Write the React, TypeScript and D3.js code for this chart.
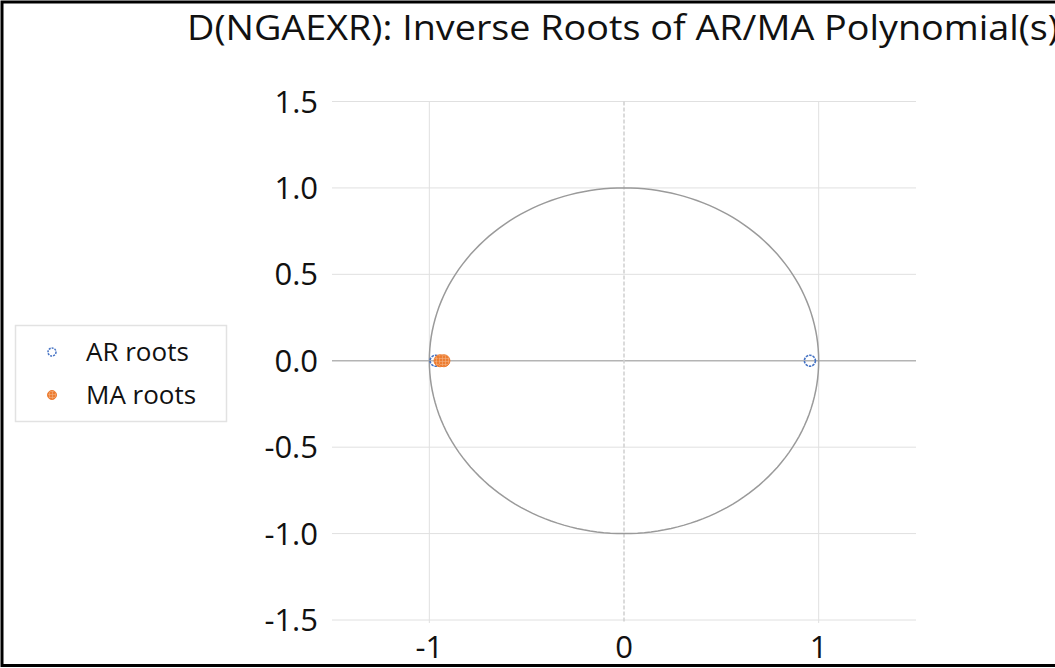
import React from "react";
import * as d3 from "d3";

const W = 1055;
const H = 668;

const titleText = "D(NGAEXR): Inverse Roots of AR/MA Polynomial(s)";
const xTicks = [-1, 0, 1];
const yTicks = [1.5, 1.0, 0.5, 0.0, -0.5, -1.0, -1.5];
const arRootsRe = [-0.968, 0.955];
const arRootsIm = [0, 0];
const maRootsRe = [-0.945, -0.925];
const maRootsIm = [0, 0];
const seriesNames = ["AR roots", "MA roots"];

const FONT = "'Open Sans', 'Noto Sans', sans-serif";
const BLUE = "#4472C4";
const ORANGE = "#ED7D31";

const fmtY = (t: number) => d3.format(".1f")(t).replace("\u2212", "-");
const fmtX = (t: number) => d3.format("d")(t).replace("\u2212", "-");

export default function App() {
  const x = d3.scaleLinear().domain([-1.5, 1.5]).range([332, 916]);
  const y = d3.scaleLinear().domain([-1.5, 1.5]).range([620, 101.5]);

  const angles = d3.range(0, 361, 2).map((d) => (d * Math.PI) / 180);
  const circlePath = d3
    .line<number>()
    .x((a) => x(Math.cos(a)))
    .y((a) => y(Math.sin(a)))(angles) as string;

  const ar = arRootsRe.map((re, i) => ({ re, im: arRootsIm[i] }));
  const ma = maRootsRe.map((re, i) => ({ re, im: maRootsIm[i] }));

  return (
    <svg
      width={W}
      height={H}
      style={{ position: "absolute", left: 0, top: 0, background: "#fff" }}
    >
      <defs>
        <pattern id="hatch" width="3" height="3" patternUnits="userSpaceOnUse">
          <rect width="3" height="3" fill={ORANGE} />
          <path d="M0,1.5H3M1.5,0V3" stroke="#f4b183" strokeWidth="0.6" />
        </pattern>
      </defs>
      <rect x={0} y={0} width={W} height={H} fill="#fff" />
      {/* border */}
      <rect x={2} y={2} width={W + 10} height={H - 4.5} fill="none" stroke="#000" strokeWidth={3} />

      {/* title */}
      <text
        x={187}
        y={40}
        textAnchor="start"
        fontFamily={FONT}
        fontSize={34}
        textLength={872}
        lengthAdjust="spacingAndGlyphs"
        fill="#111"
      >
        {titleText}
      </text>

      {/* horizontal gridlines */}
      {yTicks.map((t) => (
        <line
          key={"gy" + t}
          x1={x(-1.5)}
          x2={x(1.5)}
          y1={y(t)}
          y2={y(t)}
          stroke={t === 0 ? "#b4b4b4" : "#e0e0e0"}
          strokeWidth={t === 0 ? 1.5 : 1}
        />
      ))}
      {/* vertical gridlines */}
      {xTicks.map((t) => (
        <line
          key={"gx" + t}
          x1={x(t)}
          x2={x(t)}
          y1={y(1.5)}
          y2={y(-1.5) + 3}
          stroke={t === 0 ? "#d0d0d0" : "#e0e0e0"}
          strokeWidth={t === 0 ? 1.5 : 1}
          strokeDasharray={t === 0 ? "4,2" : undefined}
        />
      ))}

      {/* unit circle */}
      <path d={circlePath} fill="none" stroke="#9a9a9a" strokeWidth={1.5} />

      {/* y tick labels */}
      {yTicks.map((t) => (
        <text
          key={"yl" + t}
          x={318}
          y={y(t) + 11}
          textAnchor="end"
          fontFamily={FONT}
          fontSize={31}
          fill="#111"
        >
          {fmtY(t)}
        </text>
      ))}
      {/* x tick labels */}
      {xTicks.map((t) => (
        <text
          key={"xl" + t}
          x={x(t)}
          y={658}
          textAnchor="middle"
          fontFamily={FONT}
          fontSize={31}
          fill="#111"
        >
          {fmtX(t)}
        </text>
      ))}

      {/* AR roots */}
      {ar.map((d, i) => (
        <circle
          key={"ar" + i}
          cx={x(d.re)}
          cy={y(d.im)}
          r={5.5}
          fill="none"
          stroke={BLUE}
          strokeWidth={1.6}
          strokeDasharray="2.5,1"
        />
      ))}
      {/* MA roots */}
      {ma.map((d, i) => (
        <circle
          key={"ma" + i}
          cx={x(d.re)}
          cy={y(d.im)}
          r={6}
          fill="url(#hatch)"
          stroke={ORANGE}
          strokeWidth={1}
        />
      ))}

      {/* legend */}
      <rect x={15.5} y={325.5} width={211} height={96} fill="#fff" stroke="#e2e2e2" strokeWidth={1.5} />
      <circle cx={52} cy={352} r={4} fill="none" stroke={BLUE} strokeWidth={1.5} strokeDasharray="2,1" />
      <circle cx={52} cy={395} r={4.5} fill="url(#hatch)" stroke={ORANGE} strokeWidth={1} />
      <text x={86} y={361} fontFamily={FONT} fontSize={26} fill="#111">
        {seriesNames[0]}
      </text>
      <text x={86} y={404} fontFamily={FONT} fontSize={26} fill="#111">
        {seriesNames[1]}
      </text>
    </svg>
  );
}
